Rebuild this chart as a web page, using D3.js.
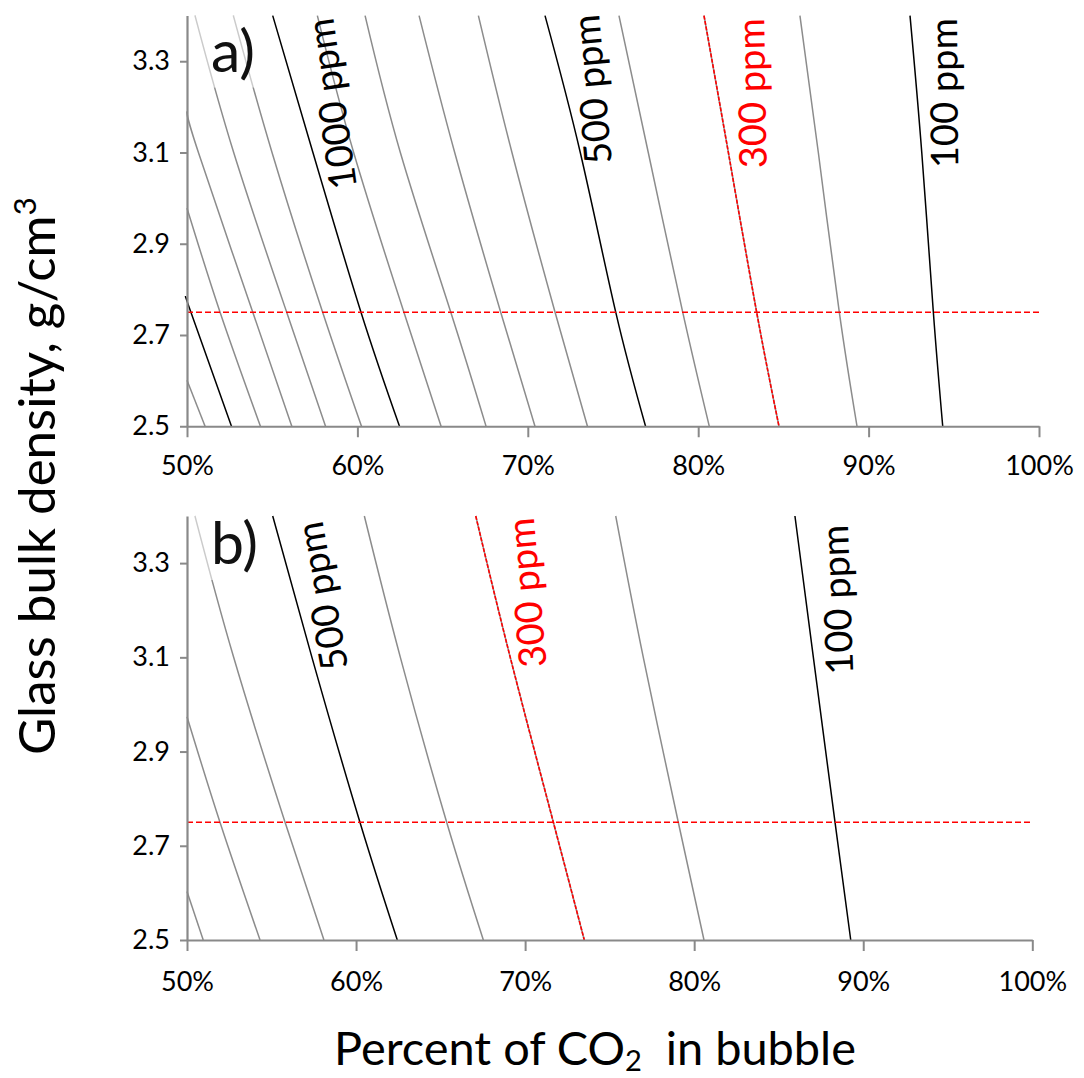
<!DOCTYPE html>
<html>
<head>
<meta charset="utf-8">
<script src="https://cdn.jsdelivr.net/npm/d3@7"></script>
<style>
  html, body { margin: 0; padding: 0; background: #fff; }
  svg { display: block; }
  text { font-family: Lato, "Open Sans", sans-serif; }
</style>
</head>
<body>
<svg id="chart" width="1084" height="1078"></svg>
<script>
// ---- axis ticks ----
const densityTicks = [2.5, 2.7, 2.9, 3.1, 3.3];
const percentTicks = [50, 60, 70, 80, 90, 100];
const referenceDensity = 2.75;

// Each iso-concentration curve is sampled at these glass densities (g/cm3);
// values are the CO2 percentage where the curve passes that density.
const sampleDensities = [3.4, 3.1, 2.75, 2.5];

// ---- panel a ----
const levelsA   = [100, 200, 300, 400, 500, 600, 700, 800, 900, 1000, 1100, 1200, 1300, 1400, 1500, 1600];
const at34A     = [92.43, 85.97, 80.34, 75.35, 71.01, 67.10, 63.62, 60.45, 57.65, 55.03, 52.72, 50.47, null, null, null, null];
const at31A     = [93.12, 87.05, 81.77, 77.07, 73.08, 69.07, 65.71, 62.52, 59.78, 57.39, 54.99, 52.74, 50.67, null, null, null];
const at275A    = [93.80, 88.28, 83.43, 79.09, 75.16, 71.60, 68.41, 65.48, 62.73, 60.21, 57.96, 55.85, 53.86, 51.94, 50.23, null];
const at25A     = [94.35, 89.32, 84.74, 80.65, 76.91, 73.50, 70.42, 67.55, 64.91, 62.47, 60.24, 58.13, 56.15, 54.31, 52.61, 51.06];
// density at which a curve crosses the 50 % axis (curves entering from the left)
const edgeA     = [null, null, null, null, null, null, null, null, null, null, null, null, 3.19, 2.978, 2.775, 2.601];

const labelTextA = ["1000 ppm", "500 ppm", "300 ppm", "100 ppm"];
const labelPctA  = [59.98, 74.94, 84.02, 95.26];
const labelDensA = [3.024, 3.077, 3.066, 3.066];

// ---- panel b ----
const levelsB   = [100, 200, 300, 400, 500, 600, 700, 800];
const at34B     = [85.96, 75.36, 67.08, 60.49, 55.07, 50.47, null, null];
const at31B     = [87.05, 76.99, 69.12, 62.62, 57.39, 52.76, null, null];
const at275B    = [88.33, 79.06, 71.67, 65.36, 60.23, 55.80, 51.95, null];
const at25B     = [89.26, 80.58, 73.50, 67.53, 62.44, 58.10, 54.32, 50.96];
const edgeB     = [null, null, null, null, null, null, 2.974, 2.603];

const labelTextB = ["500 ppm", "300 ppm", "100 ppm"];
const labelPctB  = [59.54, 71.28, 89.41];
const labelDensB = [3.078, 3.081, 3.064];

// ---------------------------------------------------------------
const svg = d3.select("#chart");
const AXIS = "#898989", GRAY = "#8c8c8c", BLACK = "#000", RED = "#ff0000";

// font size that makes a string reach a given advance length
function fittedSize(str, targetLen, base = 40) {
  const probe = svg.append("text").attr("font-size", base).text(str);
  const len = probe.node().getComputedTextLength();
  probe.remove();
  return base * targetLen / len;
}
const LABEL_FS = fittedSize("100 ppm", 150);
const LETTER_FS = fittedSize("a)", 44);

function curveColor(level) {
  if (level === 100 || level % 500 === 0) return BLACK;
  return GRAY;
}

function buildCurves(levels, cols, edge) {
  return levels.map((lv, i) => {
    const pts = [];
    if (edge[i] != null) pts.push({ p: 50, d: edge[i] });
    cols.forEach((col, k) => {
      if (col[i] != null) pts.push({ p: col[i], d: sampleDensities[k] });
    });
    pts.sort((a, b) => b.d - a.d);
    return { level: lv, pts };
  });
}

function drawPanel(opt) {
  const g = svg.append("g");
  const x = d3.scaleLinear().domain([50, 100]).range([opt.x0, opt.x1]);
  const y = d3.scaleLinear().domain([2.5, 3.4]).range([opt.y0, opt.y1]);

  const line = d3.line()
    .x(d => x(d.p))
    .y(d => y(d.d))
    .curve(d3.curveNatural);

  const curves = buildCurves(opt.levels, opt.cols, opt.edge);

  g.selectAll("path.iso")
    .data(curves)
    .join("path")
    .attr("class", "iso")
    .attr("d", c => line(c.pts))
    .attr("fill", "none")
    .attr("stroke", c => curveColor(c.level))
    .attr("stroke-width", 1.5);

  // 300 ppm curve is highlighted with a red dashed overlay
  g.selectAll("path.hl")
    .data(curves.filter(c => c.level === 300))
    .join("path")
    .attr("class", "hl")
    .attr("d", c => line(c.pts))
    .attr("fill", "none")
    .attr("stroke", RED)
    .attr("stroke-width", 1.6)
    .attr("stroke-dasharray", "4,1.5");

  // reference density
  g.append("line")
    .attr("x1", x(50)).attr("x2", x(100))
    .attr("y1", y(referenceDensity)).attr("y2", y(referenceDensity))
    .attr("stroke", RED)
    .attr("stroke-width", 1.4)
    .attr("stroke-dasharray", "6,3");

  // panel letter on a translucent box
  g.append("rect")
    .attr("x", x(50) + 1).attr("y", y(3.4))
    .attr("width", 68).attr("height", opt.boxH)
    .attr("fill", "#fff").attr("opacity", 0.55);
  g.append("text")
    .attr("x", x(50) + 24).attr("y", y(3.4) + opt.letterDy)
    .attr("font-size", LETTER_FS)
    .attr("fill", "#111")
    .text(opt.letter);

  // curve labels
  opt.labelText.forEach((t, i) => {
    g.append("text")
      .attr("transform", `translate(${x(opt.labelPct[i])},${y(opt.labelDens[i])}) rotate(${-90 - opt.labelTilt[i]})`)
      .attr("font-size", LABEL_FS)
      .attr("fill", t.startsWith("300") ? RED : BLACK)
      .text(t);
  });

  // axes
  const yAxis = d3.axisLeft(y)
    .tickValues(densityTicks)
    .tickFormat(d3.format(".1f"))
    .tickSizeInner(7).tickSizeOuter(0).tickPadding(10);
  const xAxis = d3.axisBottom(x)
    .tickValues(percentTicks)
    .tickFormat(d => d + "%")
    .tickSizeInner(11).tickSizeOuter(0).tickPadding(opt.xPad);

  const gy = g.append("g").attr("transform", `translate(${x(50)},0)`).call(yAxis);
  const gx = g.append("g").attr("transform", `translate(0,${y(2.5)})`).call(xAxis);
  [gx, gy].forEach(a => {
    a.select(".domain").attr("stroke", AXIS).attr("stroke-width", 2.2);
    a.selectAll(".tick line").attr("stroke", AXIS).attr("stroke-width", 2);
    a.selectAll(".tick text")
      .attr("fill", "#000")
      .attr("font-size", 27)
      .style("font-family", "Lato, 'Open Sans', sans-serif");
  });
}

drawPanel({
  x0: 187, x1: 1039, y0: 426.25, y1: 15.6,
  levels: levelsA, cols: [at34A, at31A, at275A, at25A], edge: edgeA,
  labelText: labelTextA, labelPct: labelPctA, labelDens: labelDensA,
  labelTilt: [8, 5, 1, 0.5],
  letter: "a)", boxH: 72, letterDy: 56, xPad: 19
});

drawPanel({
  x0: 187, x1: 1032.3, y0: 940, y1: 516,
  levels: levelsB, cols: [at34B, at31B, at275B, at25B], edge: edgeB,
  labelText: labelTextB, labelPct: labelPctB, labelDens: labelDensB,
  labelTilt: [10, 5, 2],
  letter: "b)", boxH: 64, letterDy: 48, xPad: 21
});

// axis titles: built at a trial size, then rescaled to the wanted extent
function titleText(parent, build, targetLen) {
  const t = parent.append("text").attr("fill", "#000").style("white-space", "pre");
  build(t, 40);
  const w = t.node().getBBox().width;
  t.selectAll("*").remove();
  build(t, 40 * targetLen / w);
  return t;
}

titleText(svg, (t, fs) => {
  t.attr("font-size", fs).attr("text-anchor", "middle")
    .attr("transform", "translate(55,476) rotate(-90)");
  t.append("tspan").text("Glass bulk density, g/cm");
  t.append("tspan").attr("font-size", fs * 0.62).attr("dy", -fs * 0.38).text("3");
}, 558);

titleText(svg, (t, fs) => {
  t.attr("font-size", fs).attr("text-anchor", "middle")
    .attr("x", 595).attr("y", 1065);
  t.append("tspan").text("Percent of CO");
  t.append("tspan").attr("font-size", fs * 0.62).attr("dy", fs * 0.13).text("2");
  t.append("tspan").attr("dy", -fs * 0.13).text("  in bubble");
}, 522);
</script>
</body>
</html>
